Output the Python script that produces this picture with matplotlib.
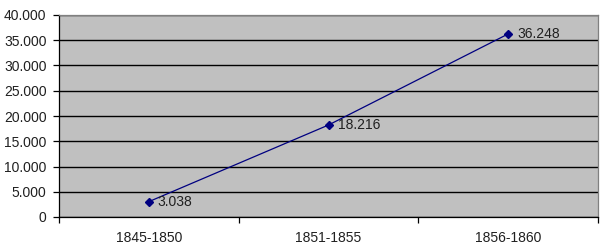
import matplotlib
matplotlib.use('Agg')
import matplotlib.pyplot as plt
from matplotlib.ticker import FixedLocator, FuncFormatter

periodos = ['1845-1850', '1851-1855', '1856-1860']
valores = [3038, 18216, 36248]
etiquetas = ['3.038', '18.216', '36.248']

plt.rcParams['font.family'] = ['Liberation Sans', 'DejaVu Sans']
plt.rcParams['font.size'] = 10

fig = plt.figure(figsize=(6.03, 2.52), dpi=100)
ax = fig.add_axes([59/603, 1 - 217/252, (598-59)/603, (217-15)/252])
ax.set_facecolor('#c0c0c0')

x = list(range(len(periodos)))
ax.plot(x, valores, color='#000080', lw=0.9, marker='D', ms=4, zorder=3)
for xi, v, t in zip(x, valores, etiquetas):
    ax.annotate(t, (xi, v), xytext=(6.5, 0), textcoords='offset points',
                va='center', ha='left', color='#202020', fontsize=10)

ax.set_xlim(-0.5, 2.5)
ax.set_ylim(0, 40000)
ax.set_yticks(range(0, 40001, 5000))
ax.yaxis.set_major_formatter(FuncFormatter(lambda v, p: f'{int(v):,}'.replace(',', '.')))
ax.yaxis.grid(True, color='black', lw=1.0)
ax.set_axisbelow(True)

# categorias: ticks en los limites, etiquetas en el centro
ax.xaxis.set_major_locator(FixedLocator([-0.5, 0.5, 1.5, 2.5]))
ax.xaxis.set_major_formatter(FuncFormatter(lambda v, p: ''))
ax.xaxis.set_minor_locator(FixedLocator(x))
ax.set_xticklabels(periodos, minor=True)
ax.tick_params(axis='x', which='minor', length=0, pad=10)
ax.tick_params(axis='x', which='major', length=4, width=0.9, color='black')
ax.tick_params(axis='y', length=4, width=0.9, color='black', pad=5)
ax.tick_params(labelcolor='#202020', which='both')

for s in ['top', 'right']:
    ax.spines[s].set_color('#808080')
    ax.spines[s].set_linewidth(0.9)
for s in ['left', 'bottom']:
    ax.spines[s].set_color('black')
    ax.spines[s].set_linewidth(0.9)

fig.savefig('out.png', dpi=100)
